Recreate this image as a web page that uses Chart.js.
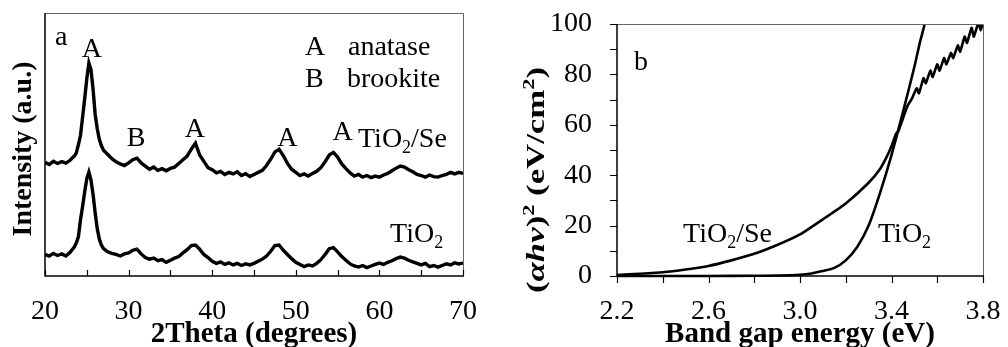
<!DOCTYPE html>
<html>
<head>
<meta charset="utf-8">
<script src="https://cdn.jsdelivr.net/npm/chart.js@4.4.0/dist/chart.umd.min.js"></script>
<style>
  html, body { margin: 0; padding: 0; background: #fff; }
  #wrapA { position: absolute; left: 0; top: 0; width: 480px; height: 347px; }
  #wrapB { position: absolute; left: 480px; top: 0; width: 528px; height: 347px; }
</style>
</head>
<body>
<div id="wrapA"><canvas id="xrd"></canvas></div>
<div id="wrapB"><canvas id="tauc"></canvas></div>
<script>
// ---- panel a : XRD patterns ----
const twoTheta = [20, 20.5, 21, 21.5, 22, 22.5, 23, 23.5,
  23.75, 24, 24.25, 24.5, 24.75, 25, 25.25, 25.5, 25.75, 26, 26.25, 26.5, 26.75, 27,
  27.5, 28, 28.5, 29, 29.5, 30, 30.5, 31, 31.5, 32,
  32.5, 33, 33.5, 34, 34.5, 35, 35.5, 36, 36.5, 37,
  37.5, 38, 38.5, 39, 39.5, 40, 40.5, 41, 41.5, 42,
  42.5, 43, 43.5, 44, 44.5, 45, 45.5, 46, 46.5, 47,
  47.5, 48, 48.5, 49, 49.5, 50, 50.5, 51, 51.5, 52,
  52.5, 53, 53.5, 54, 54.5, 55, 55.5, 56, 56.5, 57,
  57.5, 58, 58.5, 59, 59.5, 60, 60.5, 61, 61.5, 62,
  62.5, 63, 63.5, 64, 64.5, 65, 65.5, 66, 66.5, 67,
  67.5, 68, 68.5, 69, 69.5, 70];

const intensitySe = [43.2, 42.4, 43.6, 42.8, 43.5, 42.9, 44.0, 45.6,
  46.8, 50.0, 53.5, 60.5, 67.5, 75.0, 81.0, 78.5, 71.0, 61.5, 56.0, 52.0, 49.5, 47.8,
  46.2, 44.6, 43.4, 42.6, 42.0, 43.0, 44.2, 44.8, 43.0, 41.8,
  40.6, 41.4, 40.2, 40.8, 40.0, 40.9, 41.4, 42.8, 44.2, 45.6,
  48.2, 50.5, 46.0, 43.6, 41.2, 40.4, 39.2, 39.8, 38.6, 39.4,
  38.8, 39.6, 38.2, 38.9, 37.8, 38.6, 39.4, 40.2, 42.0, 44.4,
  47.2, 48.2, 45.8, 42.8, 40.6, 39.4, 38.2, 38.8, 38.0, 39.0,
  39.8, 41.2, 43.4, 46.0, 47.0, 45.2, 42.6, 40.8, 39.2, 38.0,
  38.6, 37.6, 38.2, 37.4, 38.0, 37.6, 38.4, 39.0, 40.0, 41.0,
  41.8, 41.4, 40.4, 39.6, 38.6, 38.2, 37.6, 38.4, 37.8, 37.6,
  38.2, 38.6, 39.4, 38.8, 39.4, 39.0];

const intensityTiO2 = [8.2, 7.6, 8.6, 7.8, 8.4, 7.6, 9.0, 11.0,
  12.6, 15.0, 21.5, 26.5, 32.0, 37.0, 39.5, 36.5, 31.0, 24.0, 18.0, 14.0, 11.8, 10.4,
  9.2, 8.6, 8.2, 7.6, 8.4, 8.8, 9.8, 10.2, 8.4, 7.0,
  6.4, 6.8, 5.8, 6.2, 5.2, 6.0, 6.8, 7.4, 8.8, 10.0,
  11.6, 11.8, 10.2, 8.2, 7.0, 5.6, 4.8, 5.4, 4.4, 5.0,
  4.2, 4.8, 4.0, 4.6, 4.2, 4.8, 5.6, 6.4, 7.6, 9.4,
  11.6, 11.8, 9.8, 8.2, 6.6, 5.2, 4.4, 3.6, 4.2, 3.8,
  4.8, 6.2, 8.2, 10.4, 10.8, 9.2, 7.4, 6.0, 4.6, 3.8,
  3.4, 4.0, 3.2, 3.8, 4.4, 4.9, 4.4, 5.2, 5.8, 6.6,
  7.2, 6.8, 6.0, 5.4, 4.8, 4.2, 4.8, 3.6, 4.0, 3.4,
  4.0, 4.6, 4.2, 5.0, 4.6, 4.9];

const thetaTicks = [20, 30, 40, 50, 60, 70];
const thetaMinor = [20, 25, 30, 35, 40, 45, 50, 55, 60, 65, 70];

// ---- panel b : Tauc plot ----
const energyTiO2 = [2.2, 2.4, 2.6, 2.8, 2.9, 3.0, 3.05, 3.1, 3.15, 3.2, 3.25, 3.3, 3.35, 3.4, 3.45, 3.5, 3.525, 3.545, 3.555];
const taucTiO2 = [0, 0, 0, 0.1, 0.2, 0.5, 1.0, 2.0, 3.2, 6.2, 11.5, 20, 33, 48, 65, 83, 93, 100, 106];

const energySe = [2.2, 2.3, 2.4, 2.5, 2.6, 2.7, 2.8, 2.9, 3.0,
  3.1, 3.2, 3.3, 3.35, 3.38, 3.4, 3.42, 3.43, 3.45, 3.47,
  3.49, 3.51, 3.52, 3.54, 3.55, 3.57, 3.58, 3.6, 3.61, 3.63,
  3.64, 3.66, 3.67, 3.69, 3.7, 3.72, 3.73, 3.75, 3.76, 3.78,
  3.79, 3.8];
const taucSe = [0.4, 0.9, 1.5, 2.6, 4.0, 6.2, 8.8, 12.3, 16.5,
  22.5, 28.8, 37.0, 42.5, 47.5, 51.5, 56.5, 57.5, 62.5, 67.5,
  70.5, 74.5, 72.5, 78.5, 76.5, 81.5, 79.0, 84.0, 81.5, 86.5,
  84.0, 88.5, 86.5, 91.5, 89.0, 95.0, 92.5, 98.5, 95.0, 100.5,
  97.5, 100.5];

const energyTicks = [2.2, 2.6, 3.0, 3.4, 3.8];
const energyMinor = [2.2, 2.4, 2.6, 2.8, 3.0, 3.2, 3.4, 3.6, 3.8];
const taucTicks = [0, 20, 40, 60, 80, 100];
const taucMinor = [0, 10, 20, 30, 40, 50, 60, 70, 80, 90, 100];

const SERIF = '"Liberation Serif", "Times New Roman", serif';
const f = (size, style) => (style || '') + ' ' + size + 'px ' + SERIF;

// text pieces drawn at data positions; parts with sub:true are subscripts
const labelsA = [
  { x: 21.2, y: 87.8, parts: [{ t: 'a' }] },
  { x: 25.62, y: 83.3, parts: [{ t: 'A' }], align: 'center' },
  { x: 51.1, y: 84.0, parts: [{ t: 'A' }] },
  { x: 56.24, y: 84.0, parts: [{ t: 'anatase' }] },
  { x: 51.1, y: 71.9, parts: [{ t: 'B' }] },
  { x: 56.12, y: 71.9, parts: [{ t: 'brookite' }] },
  { x: 30.89, y: 49.4, parts: [{ t: 'B' }], align: 'center' },
  { x: 37.94, y: 52.85, parts: [{ t: 'A' }], align: 'center' },
  { x: 49.0, y: 49.24, parts: [{ t: 'A' }], align: 'center' },
  { x: 55.59, y: 51.7, parts: [{ t: 'A' }], align: 'center' },
  { x: 57.44, y: 49.05, parts: [{ t: 'TiO' }, { t: '2', sub: true }, { t: '/Se' }] },
  { x: 61.27, y: 12.93, parts: [{ t: 'TiO' }, { t: '2', sub: true }] }
];
const labelsB = [
  { x: 2.274, y: 81.75, parts: [{ t: 'b' }] },
  { x: 2.489, y: 13.5, parts: [{ t: 'TiO' }, { t: '2', sub: true }, { t: '/Se' }] },
  { x: 3.341, y: 13.5, parts: [{ t: 'TiO' }, { t: '2', sub: true }] }
];

function drawParts(ctx, parts, x, y, align, size, style) {
  const widths = parts.map(p => {
    ctx.font = p.sub || p.sup ? f(size * 0.64, p.style || style) : f(size, p.style || style);
    return ctx.measureText(p.t).width;
  });
  const total = widths.reduce((a, b) => a + b, 0);
  let cx = align === 'center' ? x - total / 2 : x;
  ctx.textBaseline = 'alphabetic';
  ctx.textAlign = 'left';
  parts.forEach((p, i) => {
    const small = p.sub || p.sup;
    ctx.font = small ? f(size * 0.64, p.style || style) : f(size, p.style || style);
    const dy = p.sub ? size * 0.22 : p.sup ? -size * 0.38 : 0;
    ctx.fillText(p.t, cx, y + dy);
    cx += widths[i];
  });
  return total;
}

function framePlugin(cfg) {
  return {
    id: 'frame',
    afterDraw(chart) {
      const { ctx, chartArea: a, scales: { x, y } } = chart;
      ctx.save();
      // light box on top and right
      ctx.strokeStyle = '#666';
      ctx.lineWidth = 1;
      ctx.beginPath();
      ctx.moveTo(a.left, a.top + 0.5);
      ctx.lineTo(a.right + 0.5, a.top + 0.5);
      ctx.lineTo(a.right + 0.5, a.bottom);
      ctx.stroke();
      // axes
      ctx.strokeStyle = '#000';
      ctx.lineWidth = 1.5;
      ctx.beginPath();
      ctx.moveTo(a.left, a.top);
      ctx.lineTo(a.left, a.bottom);
      ctx.lineTo(a.right + 1, a.bottom);
      ctx.stroke();
      ctx.lineWidth = 1.2;
      ctx.beginPath();
      cfg.xMinor.forEach(v => {
        const px = Math.round(x.getPixelForValue(v)) + 0.5;
        ctx.moveTo(px, a.bottom);
        ctx.lineTo(px, a.bottom + cfg.xTickLen);
      });
      (cfg.yMinor || []).forEach(v => {
        const py = Math.round(y.getPixelForValue(v)) + 0.5;
        ctx.moveTo(a.left, py);
        ctx.lineTo(a.left - cfg.yTickLen, py);
      });
      ctx.stroke();
      // annotations
      ctx.fillStyle = '#000';
      cfg.labels.forEach(l => {
        drawParts(ctx, l.parts, x.getPixelForValue(l.x), y.getPixelForValue(l.y), l.align, 28);
      });
      // axis titles
      ctx.textAlign = 'center';
      ctx.textBaseline = 'alphabetic';
      ctx.font = f(29, 'bold');
      ctx.fillText(cfg.xTitle, cfg.xTitlePos[0], cfg.xTitlePos[1]);
      ctx.translate(cfg.yTitlePos[0], cfg.yTitlePos[1]);
      ctx.rotate(-Math.PI / 2);
      if (cfg.yTitleLen) {
        let w = 0;
        cfg.yTitleParts.forEach(p => {
          ctx.font = p.sup ? f(26 * 0.64, p.style || 'bold') : f(26, p.style || 'bold');
          w += ctx.measureText(p.t).width;
        });
        ctx.scale(cfg.yTitleLen / w, 1);
        drawParts(ctx, cfg.yTitleParts, 0, 0, 'center', 26, 'bold');
      } else {
        ctx.font = f(28, 'bold');
        ctx.fillText(cfg.yTitle, 0, 0);
      }
      ctx.restore();
    }
  };
}

const tickFont = { family: SERIF, size: 28 };
const noEdgePadding = s => { s.paddingLeft = 0; s.paddingRight = 0; };

new Chart(document.getElementById('xrd'), {
  type: 'line',
  data: {
    datasets: [
      {
        label: 'TiO2/Se',
        data: twoTheta.map((t, i) => ({ x: t, y: intensitySe[i] })),
        borderColor: '#000', borderWidth: 3.4, pointRadius: 0, tension: 0
      },
      {
        label: 'TiO2',
        data: twoTheta.map((t, i) => ({ x: t, y: intensityTiO2[i] })),
        borderColor: '#000', borderWidth: 3.4, pointRadius: 0, tension: 0
      }
    ]
  },
  options: {
    responsive: true,
    maintainAspectRatio: false,
    animation: false,
    devicePixelRatio: 1,
    layout: { padding: { left: 0, top: 13, right: 17, bottom: 0 } },
    plugins: { legend: { display: false }, tooltip: { enabled: false } },
    scales: {
      x: {
        type: 'linear', min: 20, max: 70,
        grid: { display: false }, border: { display: false },
        afterBuildTicks: s => { s.ticks = thetaTicks.map(v => ({ value: v })); },
        afterFit: s => { s.height = 71; noEdgePadding(s); },
        ticks: { color: '#000', font: tickFont, padding: 11, maxRotation: 0 }
      },
      y: {
        min: 0, max: 100,
        grid: { display: false }, border: { display: false },
        ticks: { display: false },
        afterFit: s => { s.width = 45; }
      }
    }
  },
  plugins: [framePlugin({
    xMinor: thetaMinor, xTickLen: -6, labels: labelsA,
    xTitle: '2Theta (degrees)', xTitlePos: [254, 342],
    yTitle: 'Intensity (a.u.)', yTitlePos: [31, 149]
  })]
});

new Chart(document.getElementById('tauc'), {
  type: 'line',
  data: {
    datasets: [
      {
        label: 'TiO2',
        data: energyTiO2.map((e, i) => ({ x: e, y: taucTiO2[i] })),
        borderColor: '#000', borderWidth: 2.6, pointRadius: 0, tension: 0.3,
        clip: { left: 0, top: 0, right: 0, bottom: 4 }
      },
      {
        label: 'TiO2/Se',
        data: energySe.map((e, i) => ({ x: e, y: taucSe[i] })),
        borderColor: '#000', borderWidth: 2.6, pointRadius: 0, tension: 0.15,
        clip: { left: 0, top: 0, right: 0, bottom: 4 }
      }
    ]
  },
  options: {
    responsive: true,
    maintainAspectRatio: false,
    animation: false,
    devicePixelRatio: 1,
    layout: { padding: { left: 0, top: 24, right: 25, bottom: 0 } },
    plugins: { legend: { display: false }, tooltip: { enabled: false } },
    scales: {
      x: {
        type: 'linear', min: 2.2, max: 3.8,
        grid: { display: false }, border: { display: false },
        afterBuildTicks: s => { s.ticks = energyTicks.map(v => ({ value: v })); },
        afterFit: s => { s.height = 71; noEdgePadding(s); },
        ticks: { color: '#000', font: tickFont, padding: 11, maxRotation: 0,
                 callback: v => Number(v).toFixed(1) }
      },
      y: {
        min: 0, max: 100,
        grid: { display: false }, border: { display: false },
        afterBuildTicks: s => { s.ticks = taucTicks.map(v => ({ value: v })); },
        afterFit: s => { s.width = 137; s.paddingTop = 0; s.paddingBottom = 0; },
        ticks: { color: '#000', font: tickFont, padding: 17 }
      }
    }
  },
  plugins: [framePlugin({
    xMinor: energyMinor, xTickLen: 7, yMinor: taucMinor, yTickLen: 7, labels: labelsB,
    xTitle: 'Band gap energy (eV)', xTitlePos: [320, 342],
    yTitlePos: [64, 180], yTitleLen: 226,
    yTitleParts: [
      { t: '(', style: 'bold' }, { t: 'αhν', style: 'italic bold' }, { t: ')', style: 'bold' },
      { t: '2', sup: true, style: '' }, { t: ' (eV/cm', style: 'bold' }, { t: '2', sup: true, style: '' },
      { t: ')', style: 'bold' }
    ]
  })]
});
</script>
</body>
</html>
